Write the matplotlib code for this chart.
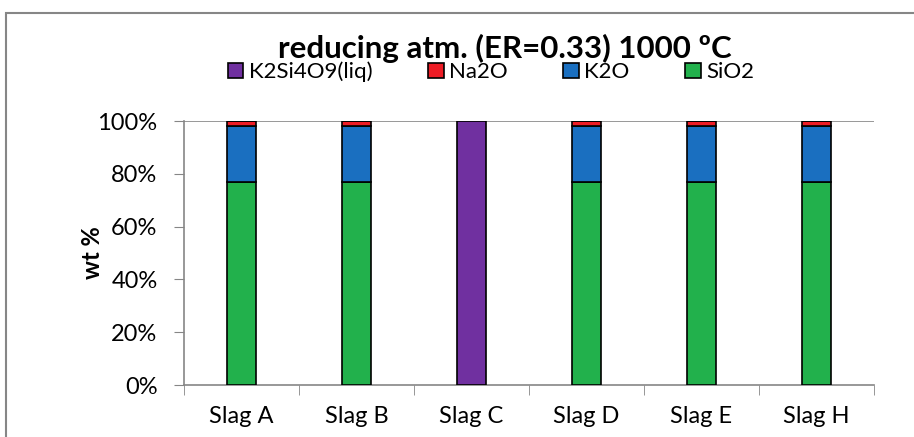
import numpy as np
import matplotlib.pyplot as plt
from matplotlib.patches import Rectangle

plt.rcParams['font.family'] = ['Lato', 'DejaVu Sans']

slags = ['Slag A', 'Slag B', 'Slag C', 'Slag D', 'Slag E', 'Slag H']
sio2 = [77, 77, 0, 77, 76.8, 77]
k2o = [21, 21, 0, 21, 21.2, 21]
na2o = [2, 2, 0, 2, 2, 2]
k2si4o9 = [0, 0, 100, 0, 0, 0]

colors = {'SiO2': '#22b14c', 'K2O': '#1a6fc0', 'Na2O': '#ee1c25',
          'K2Si4O9(liq)': '#7030a0'}

fig = plt.figure(figsize=(9.14, 4.37), dpi=100)
ax = fig.add_axes([184 / 914, 1 - 385 / 437, (874 - 184) / 914, (385 - 121) / 437])

x = np.arange(len(slags))
w = 0.25
bottom = np.zeros(len(slags))
handles = {}
for name, vals in [('SiO2', sio2), ('K2O', k2o), ('Na2O', na2o), ('K2Si4O9(liq)', k2si4o9)]:
    vals = np.array(vals, dtype=float)
    h = ax.bar(x, vals, w, bottom=bottom, color=colors[name], edgecolor='black',
               linewidth=1.2, zorder=3)
    handles[name] = h
    bottom += vals

ax.set_xlim(-0.5, len(slags) - 0.5)
ax.set_ylim(0, 100)
ax.axhline(100, color='#868686', lw=1.2, zorder=1)
ax.set_yticks(np.arange(0, 101, 20))
ax.set_yticklabels([f'{v}%' for v in range(0, 101, 20)], fontsize=17)
ax.set_xticks(x)
ax.set_xticklabels(slags, fontsize=17)
ax.tick_params(axis='x', length=0, pad=15)
ax.set_xticks(np.arange(-0.5, len(slags)), minor=True)
ax.tick_params(axis='x', which='minor', length=7, color='#868686', direction='out')
ax.tick_params(axis='y', length=7, color='#868686', direction='out', pad=12)
for s in ['top', 'right']:
    ax.spines[s].set_visible(False)
for s in ['left', 'bottom']:
    ax.spines[s].set_color('#868686')
    ax.spines[s].set_linewidth(1.2)
ax.set_ylabel('wt %', fontsize=17, fontweight='bold', va='center')
ax.yaxis.set_label_coords((93 - 184) / 690, 0.5)

fig.text(505 / 914, 1 - 48 / 437, 'reducing atm. (ER=0.33) 1000 ºC', ha='center',
         va='center', fontsize=22.5, fontweight='bold')
order = ['K2Si4O9(liq)', 'Na2O', 'K2O', 'SiO2']
fig.legend([handles[k] for k in order], order, loc='center', ncol=4,
           bbox_to_anchor=(491 / 914, 1 - 72 / 437), frameon=False, fontsize=16,
           handlelength=0.7, handleheight=0.7, handletextpad=0.25, columnspacing=2.5,
           borderpad=0)

fig.add_artist(Rectangle((6 / 914, -0.1), 1.1, 1 - 13 / 437 + 0.1,
                         transform=fig.transFigure, fill=False, edgecolor='#868686', lw=1.5))

fig.savefig('out.png', dpi=100)
